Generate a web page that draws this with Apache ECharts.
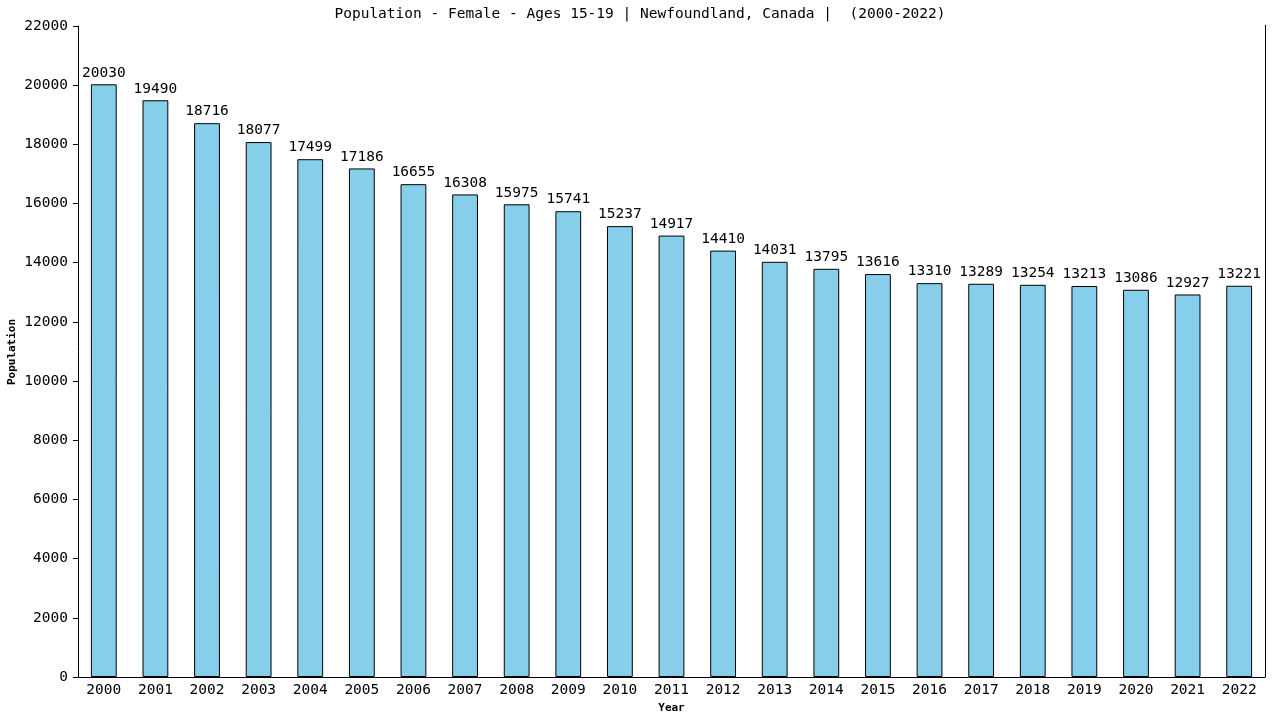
<!DOCTYPE html>
<html lang="en">
<head>
    <meta charset="UTF-8">
    <title>Population - Female - Ages 15-19</title>
    <script src="https://cdn.jsdelivr.net/npm/echarts@6/dist/echarts.min.js"></script>
    <style>
        html, body { margin: 0; padding: 0; background: #fff; }
        #chart { width: 1280px; height: 720px; }
    </style>
</head>
<body>
    <div id="chart"></div>
    <script>
        // 年份与人口数据
        var years = ['2000', '2001', '2002', '2003', '2004', '2005', '2006', '2007', '2008', '2009', '2010', '2011',
            '2012', '2013', '2014', '2015', '2016', '2017', '2018', '2019', '2020', '2021', '2022'];
        var population = [20030, 19490, 18716, 18077, 17499, 17186, 16655, 16308, 15975, 15741, 15237, 14917,
            14410, 14031, 13795, 13616, 13310, 13289, 13254, 13213, 13086, 12927, 13221];

        var font = 'DejaVu Sans Mono';
        var myChart = echarts.init(document.getElementById('chart'));

        var option = {
            animation: false,
            backgroundColor: '#fff',
            title: {
                text: 'Population - Female - Ages 15-19 | Newfoundland, Canada |  (2000-2022)',
                left: 'center',
                top: 2,
                textStyle: { fontFamily: font, fontSize: 14.5, fontWeight: 'normal', color: '#000' }
            },
            grid: { left: 78, right: 15, top: 26, bottom: 43, outerBoundsMode: 'none' },
            xAxis: {
                type: 'category',
                data: years,
                name: 'Year',
                nameLocation: 'middle',
                nameGap: 26,
                nameTextStyle: { fontFamily: font, fontSize: 11, fontWeight: 'bold', color: '#000' },
                axisLine: { lineStyle: { color: '#000', width: 1 } },
                axisTick: { show: false },
                axisLabel: { fontFamily: font, fontSize: 14.5, color: '#000', margin: 6 }
            },
            yAxis: {
                type: 'value',
                min: 0,
                max: 22000,
                interval: 2000,
                axisLine: { show: true, lineStyle: { color: '#000', width: 1 } },
                axisTick: { show: true, length: 5, lineStyle: { color: '#000' } },
                axisLabel: {
                    fontFamily: font, fontSize: 14.5, color: '#000', margin: 10,
                    formatter: function (v) { return String(v); }
                },
                splitLine: { show: false }
            },
            series: [{
                type: 'bar',
                data: population,
                barWidth: '50%',
                itemStyle: { color: '#87ceeb', borderColor: '#000', borderWidth: 1 },
                label: {
                    show: true,
                    position: 'top',
                    distance: 4,
                    fontFamily: font,
                    fontSize: 14.5,
                    color: '#000'
                }
            }],
            graphic: [{
                type: 'line',
                shape: { x1: 1265.5, y1: 25, x2: 1265.5, y2: 677 },
                style: { stroke: '#000', lineWidth: 1 }
            }, {
                // y轴名称
                type: 'text',
                x: 12,
                y: 352,
                rotation: Math.PI / 2,
                style: {
                    text: 'Population',
                    fontFamily: font,
                    fontSize: 11,
                    fontWeight: 'bold',
                    fill: '#000',
                    align: 'center',
                    verticalAlign: 'middle'
                }
            }]
        };

        myChart.setOption(option);
    </script>
</body>
</html>
